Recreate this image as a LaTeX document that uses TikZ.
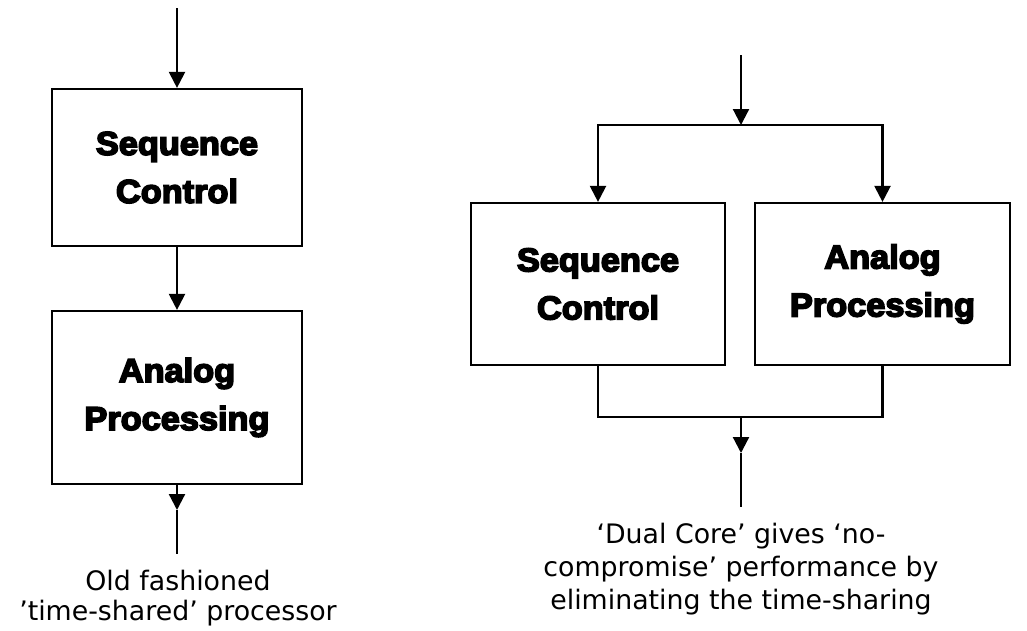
\documentclass[tikz,border=0pt]{standalone}
\usepackage{fontspec}
\setmainfont{DejaVu Sans}
\newfontfamily\boxfont{Liberation Sans}[BoldFeatures={FakeBold=5,FakeStretch=1.04}]
\usetikzlibrary{arrows.meta}
\begin{document}
\begin{tikzpicture}[x=1pt,y=-1pt,
  lw/.style={line width=2.2pt},
  arr/.style={lw,-{Triangle[width=16pt,length=16pt]}},
  blk/.style={draw,lw,inner sep=0pt,align=center,
    font=\boxfont\bfseries\fontsize{33}{48}\selectfont},
  captxt/.style={inner sep=0pt,align=center,font=\fontsize{26.8}{33}\selectfont}]
\useasboundingbox (0,0) rectangle (1027,630);
% left
\node[blk,minimum width=250pt,minimum height=157pt] (b1) at (177,167.5) {Sequence\\Control};
\node[blk,minimum width=250pt,minimum height=173pt] (b2) at (177,397.5) {Analog\\Processing};
\coordinate (t1) at (177,8);
\coordinate (c1) at (177,510);
\coordinate (c2) at (177,554);
\draw[arr] (t1) -- (b1.north);
\draw[arr] (b1.south) -- (b2.north);
\draw[arr] (b2.south) -- (c1);
\draw[lw] (c1) -- (c2);
\node[captxt,font=\fontsize{26.8}{30}\selectfont] (l1) at (178,598) {Old fashioned\\’time-shared’ processor};
% right
\node[blk,minimum width=254pt,minimum height=162pt] (s2) at (598,284) {Sequence\\Control};
\node[blk,minimum width=255pt,minimum height=162pt] (a2) at (882.5,284) {Analog\\Processing};
\coordinate (t2) at (741,55);
\coordinate (sp) at (741,125);
\coordinate (jn) at (741,417);
\coordinate (c3) at (741,453);
\coordinate (c4) at (741,507);
\draw[arr] (t2) -- (sp);
\draw[arr] (sp) -| (s2.north);
\draw[arr] (sp) -| (a2.north);
\draw[lw] (s2.south) |- (jn) -| (a2.south);
\draw[arr] (jn) -- (c3);
\draw[lw] (c3) -- (c4);
\node[captxt] (l2) at (741,569) {‘Dual Core’ gives ‘no-\\compromise’ performance by\\eliminating the time-sharing};
\end{tikzpicture}
\end{document}
